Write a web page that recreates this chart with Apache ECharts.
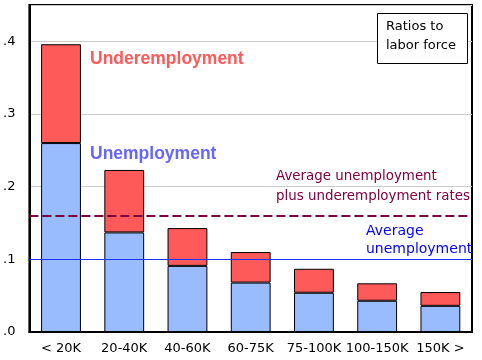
<!DOCTYPE html>
<html>
<head>
<meta charset="utf-8">
<script src="https://cdn.jsdelivr.net/npm/echarts@6/dist/echarts.min.js"></script>
<style>html,body{margin:0;padding:0;background:#fff}#c{width:482px;height:360px}</style>
</head>
<body>
<div id="c"></div>
<script>
var categories = ['< 20K', '20-40K', '40-60K', '60-75K', '75-100K', '100-150K', '150K >'];
var unemployment = [0.260, 0.137, 0.091, 0.068, 0.054, 0.043, 0.036];
var underemployment = [0.136, 0.086, 0.052, 0.042, 0.033, 0.024, 0.019];
var avgUnemployment = 0.099;
var avgCombined = 0.158;
var yTicks = [0, 0.1, 0.2, 0.3, 0.4];

var FONT = 'DejaVu Sans';
var chart = echarts.init(document.getElementById('c'), null, {renderer: 'canvas'});
chart.setOption({
  animation: false,
  backgroundColor: '#fff',
  grid: {left: 27, right: 10, top: 5, bottom: 28, show: true, borderColor: '#000', borderWidth: 2, backgroundColor: 'transparent'},
  xAxis: {
    type: 'category', data: categories,
    axisLine: {show: true, lineStyle: {color: '#000', width: 2}},
    axisTick: {show: false},
    axisLabel: {color: '#000', fontFamily: FONT, fontSize: 13, margin: 10, interval: 0}
  },
  yAxis: {
    type: 'value', min: 0, max: 0.45, interval: 0.1,
    axisLine: {show: true, lineStyle: {color: '#000', width: 2}},
    axisTick: {show: false},
    splitLine: {show: true, lineStyle: {color: '#cccccc', width: 1}},
    axisLabel: {
      color: '#000', fontFamily: FONT, fontSize: 13, margin: 14,
      formatter: function (v) {
        for (var i = 0; i < yTicks.length; i++) {
          if (Math.abs(v - yTicks[i]) < 1e-6) return '.' + Math.round(yTicks[i] * 10);
        }
        return '';
      }
    }
  },
  series: [
    {
      name: 'Unemployment', type: 'bar', stack: 's', data: unemployment, barWidth: '63%',
      itemStyle: {color: '#99bbff', borderColor: '#000', borderWidth: 1},
      markLine: {
        silent: true, symbol: 'none', label: {show: false},
        data: [
          {yAxis: avgUnemployment, lineStyle: {color: '#1a33ff', width: 1, type: 'solid'}},
          {yAxis: avgCombined, lineStyle: {color: '#7a0040', width: 2, type: [9, 4]}}
        ]
      },
      z: 2
    },
    {
      name: 'Underemployment', type: 'bar', stack: 's', data: underemployment, barWidth: '63%',
      itemStyle: {color: '#ff5a5a', borderColor: '#000', borderWidth: 1},
      z: 2
    }
  ],
  graphic: [
    {type: 'text', left: 90, top: 50, style: {text: 'Underemployment', fill: '#ff5a5a', font: 'bold 17.5px "Liberation Sans"'}},
    {type: 'text', left: 90, top: 145, style: {text: 'Unemployment', fill: '#6666ff', font: 'bold 17.5px "Liberation Sans"'}},
    {type: 'text', left: 276, top: 170, style: {text: 'Average unemployment', fill: '#800040', font: '13.4px ' + FONT}},
    {type: 'text', left: 276, top: 190, style: {text: 'plus underemployment rates', fill: '#800040', font: '13.4px ' + FONT}},
    {type: 'text', left: 366, top: 224, style: {text: 'Average', fill: '#0000ff', font: '14px ' + FONT}},
    {type: 'text', left: 366, top: 242, style: {text: 'unemployment', fill: '#0000ff', font: '14px ' + FONT}},
    {type: 'rect', left: 377, top: 13, shape: {width: 90, height: 50}, style: {fill: '#fff', stroke: '#000', lineWidth: 1}, z: 10},
    {type: 'text', left: 386, top: 20, style: {text: 'Ratios to', fill: '#000', font: '13px ' + FONT}, z: 11},
    {type: 'text', left: 386, top: 39, style: {text: 'labor force', fill: '#000', font: '13px ' + FONT}, z: 11}
  ]
});
</script>
</body>
</html>
